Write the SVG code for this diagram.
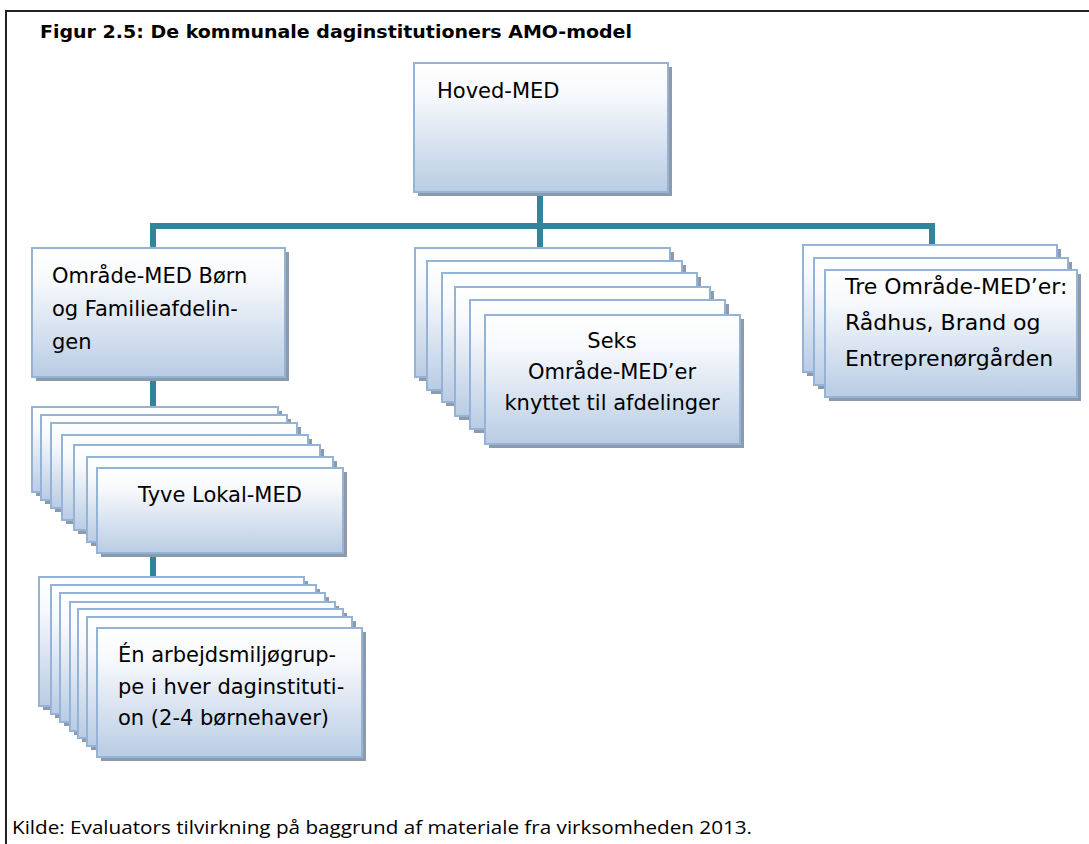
<svg xmlns="http://www.w3.org/2000/svg" width="1089" height="844" viewBox="0 0 1089 844">
<defs>
<linearGradient id="g" x1="0" y1="0" x2="0" y2="1">
<stop offset="0" stop-color="#ffffff"/>
<stop offset="0.25" stop-color="#f7f9fc"/>
<stop offset="1" stop-color="#b9cce4"/>
</linearGradient>
<style>
.box{fill:url(#g);stroke:#95b3d7;stroke-width:2}
.sh{fill:#8c9aab}
.t{font-family:"DejaVu Sans",Verdana,sans-serif;font-size:21px;fill:#000}
.c{stroke:#31849b;stroke-width:6;fill:none}
.title{font-family:"DejaVu Sans",Verdana,sans-serif;font-size:18.5px;font-weight:bold;fill:#000}
.foot{font-family:"Open Sans","Liberation Sans",sans-serif;font-size:17.5px;fill:#000}
</style>
</defs>
<rect x="0" y="0" width="1089" height="844" fill="#fff"/>
<rect x="6" y="11" width="1200" height="1000" fill="none" stroke="#222" stroke-width="2"/>
<text class="title" x="40" y="38" textLength="592" lengthAdjust="spacingAndGlyphs">Figur 2.5: De kommunale daginstitutioners AMO-model</text>

<g id="connectors">
<path class="c" d="M540,192 V248"/>
<path class="c" d="M153,248 V226 H932 V245"/>
<path class="c" d="M153,377 V407"/>
<path class="c" d="M153,553 V577"/>
</g>

<g id="hoved">
<rect class="sh" x="418" y="67" width="254" height="129"/>
<rect class="box" x="414" y="63" width="254" height="129"/>
<text class="t" x="437" y="98">Hoved-MED</text>
</g>

<g id="omraade-boern">
<rect class="sh" x="36" y="252" width="253" height="129"/>
<rect class="box" x="32" y="248" width="253" height="129"/>
<text class="t" x="52" y="283">Område-MED Børn</text>
<text class="t" x="52" y="316">og Familieafdelin-</text>
<text class="t" x="52" y="349">gen</text>
</g>

<g id="seks">
<rect class="sh" x="419" y="252" width="255" height="129"/>
<rect class="box" x="415" y="248" width="255" height="129"/>
<rect class="sh" x="431" y="265" width="255" height="129"/>
<rect class="box" x="427" y="261" width="255" height="129"/>
<rect class="sh" x="446" y="277" width="255" height="129"/>
<rect class="box" x="442" y="273" width="255" height="129"/>
<rect class="sh" x="459" y="291" width="255" height="129"/>
<rect class="box" x="455" y="287" width="255" height="129"/>
<rect class="sh" x="474" y="304" width="255" height="129"/>
<rect class="box" x="470" y="300" width="255" height="129"/>
<rect class="sh" x="489" y="319" width="255" height="129"/>
<rect class="box" x="485" y="315" width="255" height="129"/>
<text class="t" x="612" y="348" text-anchor="middle">Seks</text>
<text class="t" x="612" y="379" text-anchor="middle">Område-MED’er</text>
<text class="t" x="612" y="410" text-anchor="middle">knyttet til afdelinger</text>
</g>

<g id="tre">
<rect class="sh" x="807" y="249" width="254" height="127"/>
<rect class="box" x="803" y="245" width="254" height="127"/>
<rect class="sh" x="818" y="262" width="254" height="127"/>
<rect class="box" x="814" y="258" width="254" height="127"/>
<rect class="sh" x="829" y="274" width="252" height="127"/>
<rect class="box" x="825" y="270" width="252" height="127"/>
<text class="t" x="845" y="294" style="font-size:22px">Tre Område-MED’er:</text>
<text class="t" x="845" y="330" style="font-size:22px">Rådhus, Brand og</text>
<text class="t" x="845" y="366" style="font-size:22px">Entreprenørgården</text>
</g>

<g id="tyve">
<rect class="sh" x="36" y="411" width="246" height="85"/>
<rect class="box" x="32" y="407" width="246" height="85"/>
<rect class="sh" x="45" y="419" width="246" height="85"/>
<rect class="box" x="41" y="415" width="246" height="85"/>
<rect class="sh" x="55" y="427" width="246" height="85"/>
<rect class="box" x="51" y="423" width="246" height="85"/>
<rect class="sh" x="66" y="439" width="246" height="85"/>
<rect class="box" x="62" y="435" width="246" height="85"/>
<rect class="sh" x="78" y="449" width="246" height="85"/>
<rect class="box" x="74" y="445" width="246" height="85"/>
<rect class="sh" x="91" y="461" width="246" height="85"/>
<rect class="box" x="87" y="457" width="246" height="85"/>
<rect class="sh" x="101" y="472" width="246" height="85"/>
<rect class="box" x="97" y="468" width="246" height="85"/>
<text class="t" x="220" y="502" text-anchor="middle">Tyve Lokal-MED</text>
</g>

<g id="arbejdsmiljoegruppe">
<rect class="sh" x="43" y="581" width="265" height="129"/>
<rect class="box" x="39" y="577" width="265" height="129"/>
<rect class="sh" x="55" y="589" width="265" height="129"/>
<rect class="box" x="51" y="585" width="265" height="129"/>
<rect class="sh" x="64" y="597" width="265" height="129"/>
<rect class="box" x="60" y="593" width="265" height="129"/>
<rect class="sh" x="74" y="606" width="265" height="129"/>
<rect class="box" x="70" y="602" width="265" height="129"/>
<rect class="sh" x="82" y="613" width="265" height="129"/>
<rect class="box" x="78" y="609" width="265" height="129"/>
<rect class="sh" x="91" y="621" width="265" height="129"/>
<rect class="box" x="87" y="617" width="265" height="129"/>
<rect class="sh" x="101" y="632" width="265" height="129"/>
<rect class="box" x="97" y="628" width="265" height="129"/>
<text class="t" x="118" y="662">Én arbejdsmiljøgrup-</text>
<text class="t" x="118" y="694">pe i hver daginstituti-</text>
<text class="t" x="118" y="725">on (2-4 børnehaver)</text>
</g>

<text class="foot" x="12" y="834" textLength="740" lengthAdjust="spacingAndGlyphs">Kilde: Evaluators tilvirkning på baggrund af materiale fra virksomheden 2013.</text>
</svg>
